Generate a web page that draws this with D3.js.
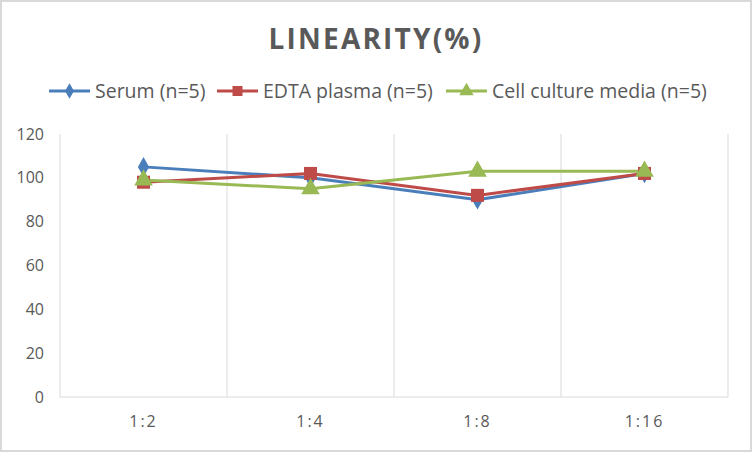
<!DOCTYPE html>
<html>
<head>
<meta charset="utf-8">
<script src="https://cdn.jsdelivr.net/npm/d3@7"></script>
<style>
  body { margin: 0; background: #fff; }
  svg { display: block; font-family: "Open Sans", "Noto Sans", sans-serif; }
</style>
</head>
<body>
<div id="chart-area"></div>
<script>
// data
var dilutions = ["1:2", "1:4", "1:8", "1:16"];
var serum = [105, 100, 90, 102];
var edta = [98, 102, 92, 102];
var cellMedia = [99, 95, 103, 103];
var yTicks = [0, 20, 40, 60, 80, 100, 120];

var series = [
    { name: "Serum (n=5)", values: serum, color: "#4a7ebb", shape: d3.symbolDiamond },
    { name: "EDTA plasma (n=5)", values: edta, color: "#be4b48", shape: d3.symbolSquare },
    { name: "Cell culture media (n=5)", values: cellMedia, color: "#98b954", shape: d3.symbolTriangle }
];

var W = 752, H = 452;
var margin = { left: 60, right: 24, top: 134, bottom: 55 };
var w = W - margin.left - margin.right;
var h = H - margin.top - margin.bottom;

var svg = d3.select("#chart-area")
    .append("svg")
    .attr("width", W)
    .attr("height", H);

// outer frame
svg.append("rect")
    .attr("x", 1).attr("y", 1)
    .attr("width", W - 2).attr("height", H - 2)
    .attr("fill", "#fff")
    .attr("stroke", "#d9d9d9")
    .attr("stroke-width", 2);

svg.append("text")
    .attr("x", W / 2)
    .attr("y", 49)
    .attr("text-anchor", "middle")
    .attr("font-size", "28px")
    .attr("font-weight", "bold")
    .attr("letter-spacing", "2.2px")
    .attr("fill", "#595959")
    .text("LINEARITY(%)");

var g = svg.append("g")
    .attr("transform", "translate(" + margin.left + "," + margin.top + ")");

var xScale = d3.scaleBand().domain(dilutions).range([0, w]);
var yScale = d3.scaleLinear().domain([0, 120]).range([h, 0]);

// vertical grid lines at band edges
var edges = dilutions.map(function (d) { return xScale(d); }).concat([w]);
g.selectAll(".vgrid")
    .data(edges)
    .enter()
    .append("line")
    .attr("x1", function (d) { return d; })
    .attr("x2", function (d) { return d; })
    .attr("y1", 0)
    .attr("y2", h)
    .attr("stroke", "#d9d9d9")
    .attr("stroke-width", 1);

// x axis baseline
g.append("line")
    .attr("x1", 0).attr("x2", w)
    .attr("y1", h).attr("y2", h)
    .attr("stroke", "#d9d9d9")
    .attr("stroke-width", 1);

var xAxis = d3.axisBottom(xScale).tickSize(0).tickPadding(19);
var xg = g.append("g")
    .attr("transform", "translate(0," + h + ")")
    .call(xAxis);
xg.select(".domain").remove();
xg.selectAll("text")
    .attr("font-size", "16px")
    .attr("letter-spacing", "2px")
    .attr("fill", "#595959")
    .attr("font-family", "\"Open Sans\", sans-serif");

var yAxis = d3.axisLeft(yScale).tickValues(yTicks).tickSize(0).tickPadding(16);
var yg = g.append("g").call(yAxis);
yg.select(".domain").remove();
yg.selectAll("text")
    .attr("font-size", "16px")
    .attr("fill", "#595959")
    .attr("font-family", "\"Open Sans\", sans-serif");

var line = d3.line()
    .x(function (d, i) { return xScale(dilutions[i]) + xScale.bandwidth() / 2; })
    .y(function (d) { return yScale(d); });

series.forEach(function (s) {
    g.append("path")
        .datum(s.values)
        .attr("fill", "none")
        .attr("stroke", s.color)
        .attr("stroke-width", 3)
        .attr("d", line);
});

series.forEach(function (s) {
    var size = s.shape === d3.symbolTriangle ? 150 : (s.shape === d3.symbolSquare ? 170 : 110);
    g.selectAll(null)
        .data(s.values)
        .enter()
        .append("path")
        .attr("transform", function (d, i) {
            return "translate(" + (xScale(dilutions[i]) + xScale.bandwidth() / 2) + "," + yScale(d) + ")";
        })
        .attr("d", d3.symbol().type(s.shape).size(size))
        .attr("fill", s.color);
});

// legend
var legendX = [49, 217, 446];
var legend = svg.append("g").attr("transform", "translate(0,91)");
series.forEach(function (s, i) {
    var lg = legend.append("g").attr("transform", "translate(" + legendX[i] + ",0)");
    lg.append("line")
        .attr("x1", 0).attr("x2", 41)
        .attr("y1", 0).attr("y2", 0)
        .attr("stroke", s.color)
        .attr("stroke-width", 3);
    var lsize = s.shape === d3.symbolTriangle ? 90 : (s.shape === d3.symbolSquare ? 100 : 70);
    lg.append("path")
        .attr("transform", "translate(20.5,0)")
        .attr("d", d3.symbol().type(s.shape).size(lsize))
        .attr("fill", s.color);
    lg.append("text")
        .attr("x", 46)
        .attr("y", 0)
        .attr("dy", "0.35em")
        .attr("font-size", "19.5px")
        .attr("fill", "#595959")
        .text(s.name);
});
</script>
</body>
</html>
